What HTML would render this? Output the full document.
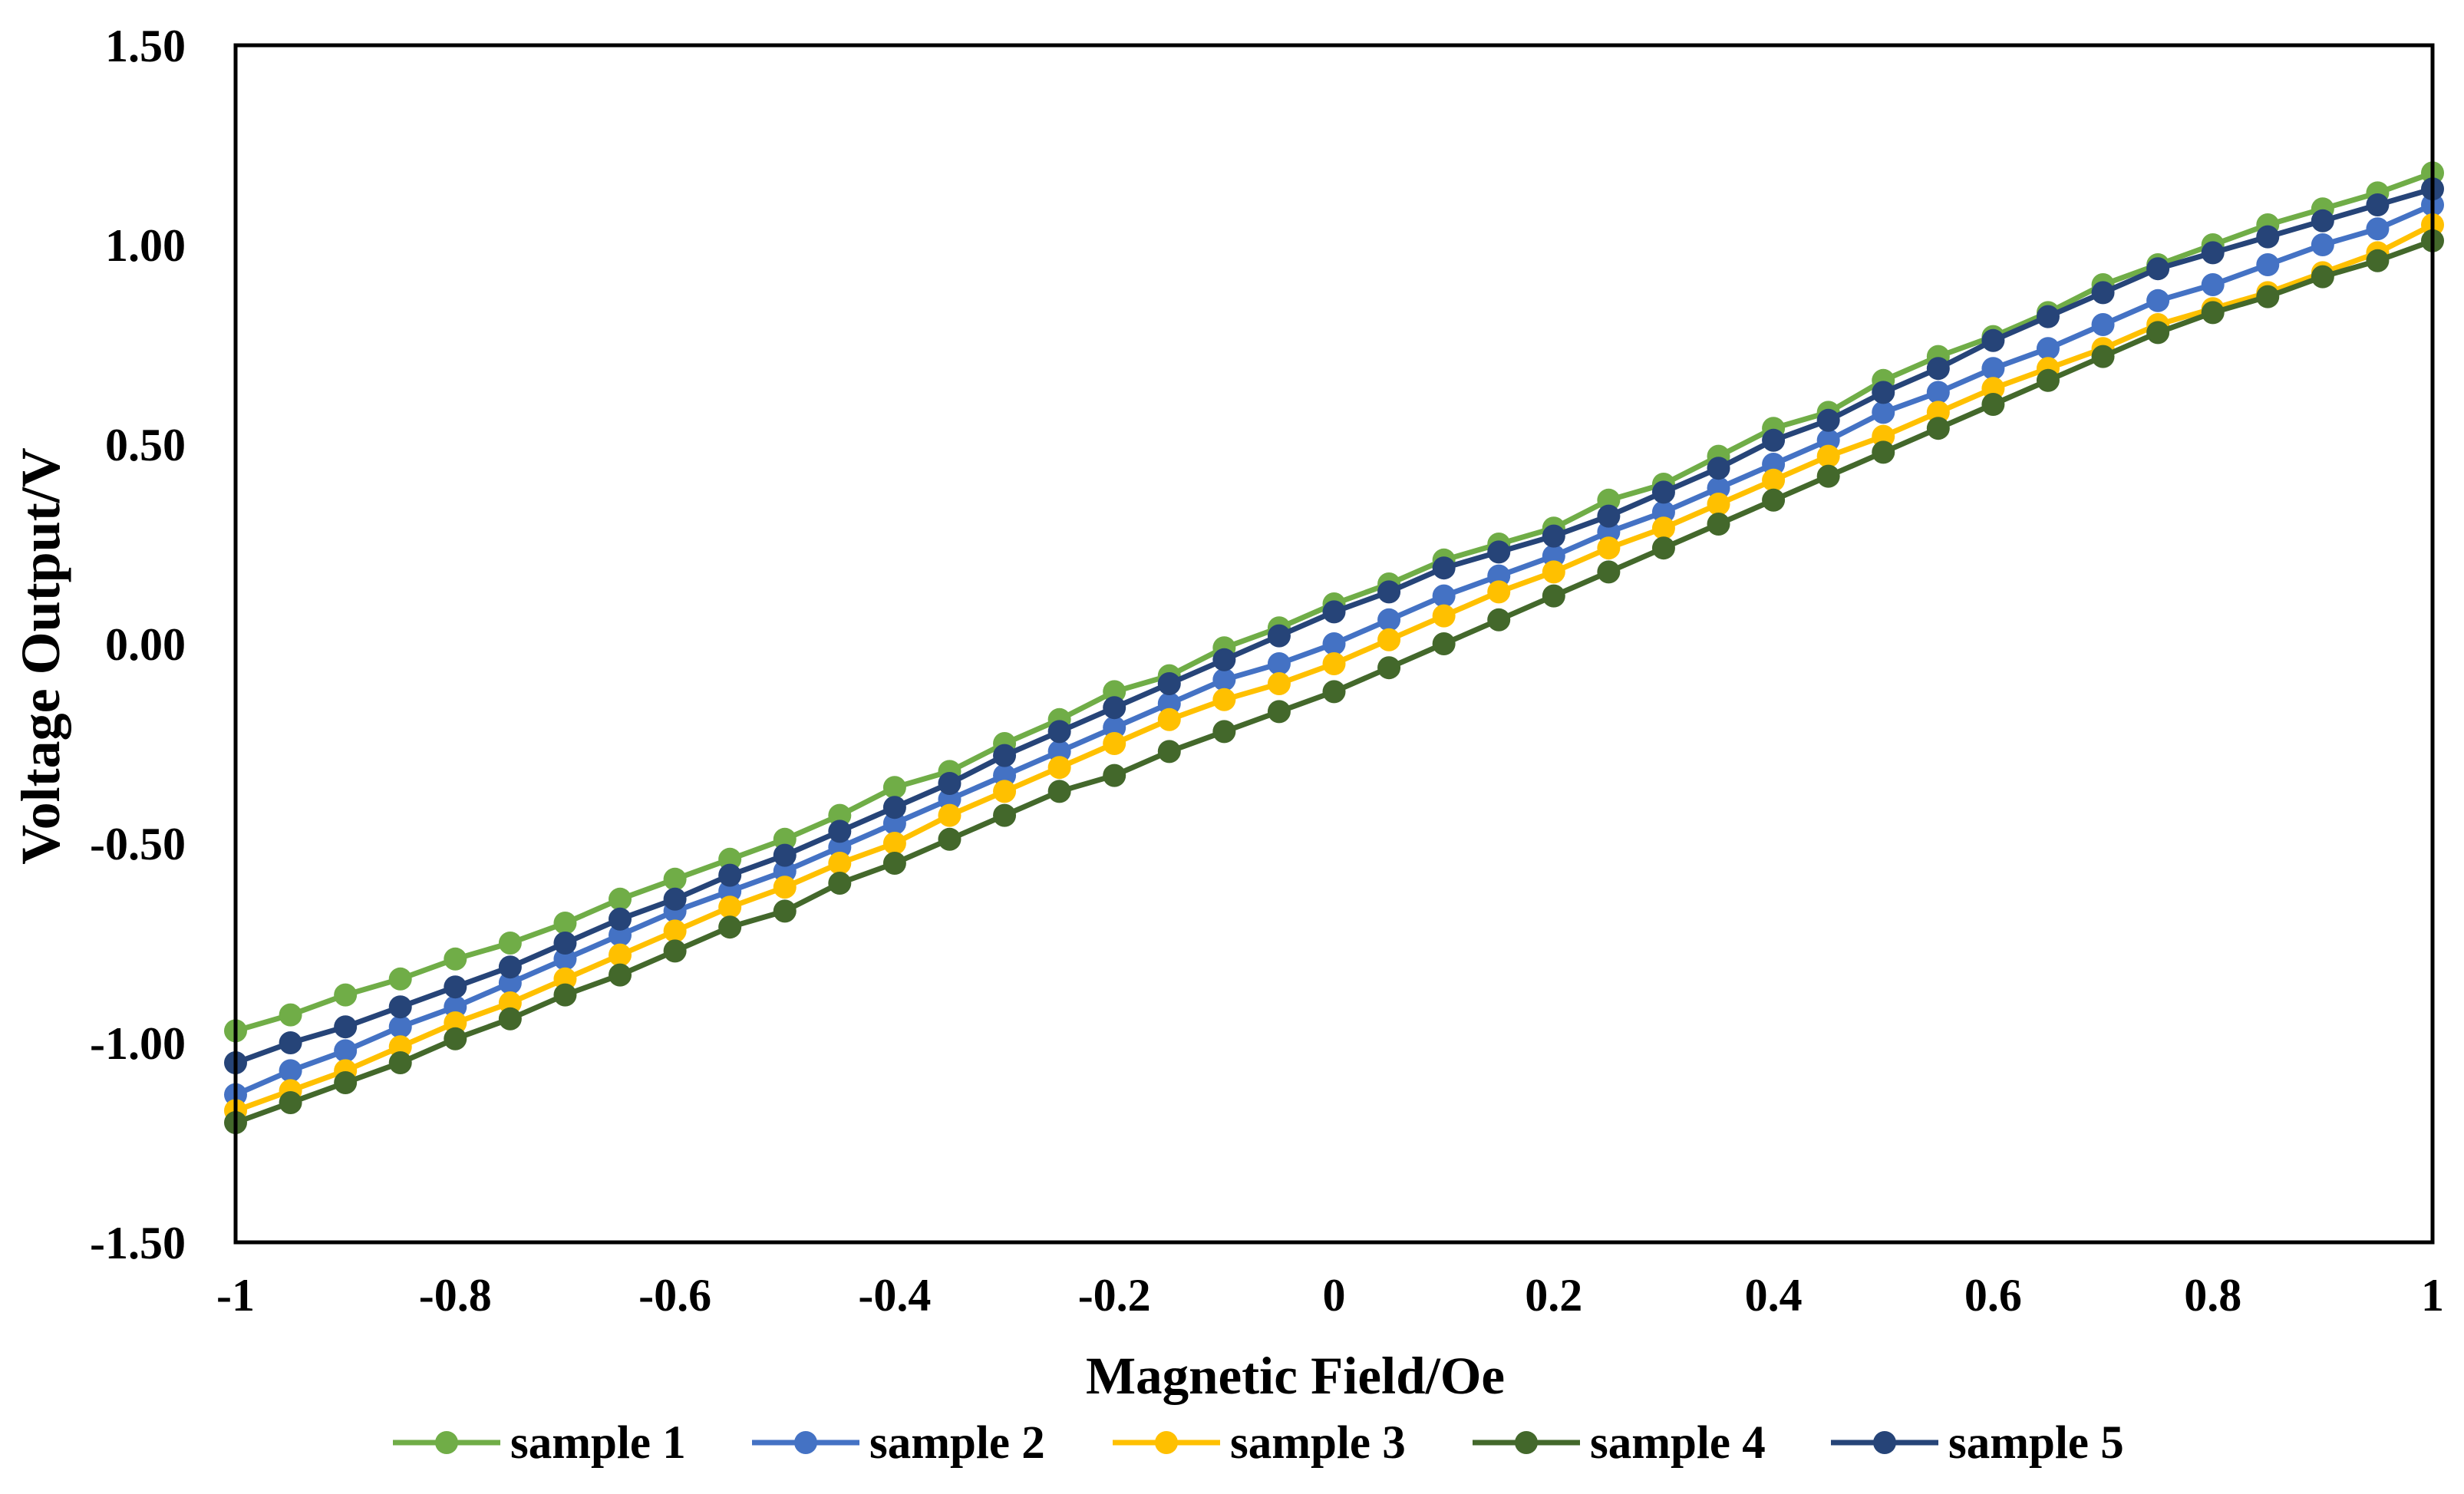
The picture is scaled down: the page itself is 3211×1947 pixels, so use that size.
<!DOCTYPE html>
<html><head><meta charset="utf-8"><style>
body{margin:0;background:#fff}
svg text{font-family:"Liberation Serif",serif;font-weight:bold;fill:#000}
</style></head><body>
<svg id="chart" width="3211" height="1942" xmlns="http://www.w3.org/2000/svg">
<rect x="0" y="0" width="3211" height="1942" fill="#fff"/>
<g id="grid"></g>
<g id="series"></g>
<rect x="307" y="59" width="2863" height="1560" fill="none" stroke="#000" stroke-width="5"/>
<g id="axes"></g>
<text x="1688" y="1816" font-size="69" text-anchor="middle">Magnetic Field/Oe</text>
<text transform="translate(77,855) rotate(-90)" font-size="72" text-anchor="middle">Voltage Output/V</text>
<g id="legend"></g>
</svg>
<script>
const xs=[-1,-0.95,-0.9,-0.85,-0.8,-0.75,-0.7,-0.65,-0.6,-0.55,-0.5,-0.45,-0.4,-0.35,-0.3,-0.25,-0.2,-0.15,-0.1,-0.05,0,0.05,0.1,0.15,0.2,0.25,0.3,0.35,0.4,0.45,0.5,0.55,0.6,0.65,0.7,0.75,0.8,0.85,0.9,0.95,1];
const s1=[-0.97,-0.93,-0.88,-0.84,-0.79,-0.75,-0.70,-0.64,-0.59,-0.54,-0.49,-0.43,-0.36,-0.32,-0.25,-0.19,-0.12,-0.08,-0.01,0.04,0.10,0.15,0.21,0.25,0.29,0.36,0.40,0.47,0.54,0.58,0.66,0.72,0.77,0.83,0.90,0.95,1.00,1.05,1.09,1.13,1.18];
const s2=[-1.13,-1.07,-1.02,-0.96,-0.91,-0.85,-0.79,-0.73,-0.67,-0.62,-0.57,-0.51,-0.45,-0.39,-0.33,-0.27,-0.21,-0.15,-0.09,-0.05,0.00,0.06,0.12,0.17,0.22,0.28,0.33,0.39,0.45,0.51,0.58,0.63,0.69,0.74,0.80,0.86,0.90,0.95,1.00,1.04,1.10];
const s3=[-1.17,-1.12,-1.07,-1.01,-0.95,-0.90,-0.84,-0.78,-0.72,-0.66,-0.61,-0.55,-0.50,-0.43,-0.37,-0.31,-0.25,-0.19,-0.14,-0.10,-0.05,0.01,0.07,0.13,0.18,0.24,0.29,0.35,0.41,0.47,0.52,0.58,0.64,0.69,0.74,0.80,0.84,0.88,0.93,0.98,1.05];
const s4=[-1.20,-1.15,-1.10,-1.05,-0.99,-0.94,-0.88,-0.83,-0.77,-0.71,-0.67,-0.60,-0.55,-0.49,-0.43,-0.37,-0.33,-0.27,-0.22,-0.17,-0.12,-0.06,0.00,0.06,0.12,0.18,0.24,0.30,0.36,0.42,0.48,0.54,0.60,0.66,0.72,0.78,0.83,0.87,0.92,0.96,1.01];
const s5=[-1.05,-1.00,-0.96,-0.91,-0.86,-0.81,-0.75,-0.69,-0.64,-0.58,-0.53,-0.47,-0.41,-0.35,-0.28,-0.22,-0.16,-0.10,-0.04,0.02,0.08,0.13,0.19,0.23,0.27,0.32,0.38,0.44,0.51,0.56,0.63,0.69,0.76,0.82,0.88,0.94,0.98,1.02,1.06,1.10,1.14];
const seriesNames=["sample 1","sample 2","sample 3","sample 4","sample 5"];
const yTicks=[1.5,1.0,0.5,0,-0.5,-1.0,-1.5];
const yTickLabels=["1.50","1.00","0.50","0.00","-0.50","-1.00","-1.50"];
const xTicks=[-1,-0.8,-0.6,-0.4,-0.2,0,0.2,0.4,0.6,0.8,1];
const xTickLabels=["-1","-0.8","-0.6","-0.4","-0.2","0","0.2","0.4","0.6","0.8","1"];

const NS="http://www.w3.org/2000/svg";
const colors=["#70ad47","#4472c4","#ffc000","#43682b","#264478"];
const X=v=>307+(v+1)/2*2863;
const Y=v=>59+(1.5-v)/3*1560;
function mk(tag,attrs,parent){const e=document.createElementNS(NS,tag);for(const k in attrs)e.setAttribute(k,attrs[k]);parent.appendChild(e);return e;}
const axes=document.getElementById('axes');
yTicks.forEach((t,i)=>{const e=mk('text',{x:242,y:Y(t)+21,'font-size':60,'text-anchor':'end'},axes);e.textContent=yTickLabels[i];

});
xTicks.forEach((t,i)=>{const e=mk('text',{x:X(t),y:1708,'font-size':60,'text-anchor':'middle'},axes);e.textContent=xTickLabels[i];

});
const sg=document.getElementById('series');
[s1,s2,s3,s4,s5].forEach((d,si)=>{
 const g=mk('g',{},sg);
 
 
 const pts=d.map((v,i)=>X(xs[i])+','+Y(v)).join(' ');
 const l=mk('polyline',{points:pts,fill:'none',stroke:colors[si],'stroke-width':7},g);
 
 
 d.forEach((v,i)=>{const c=mk('circle',{cx:X(xs[i]),cy:Y(v),r:15,fill:colors[si]},g);
 
 });
});
const lg=document.getElementById('legend');
const lx=[512,980,1450,1919,2386];
seriesNames.forEach((n,i)=>{
 const g=mk('g',{},lg);
 
 
 mk('line',{x1:lx[i],y1:1880,x2:lx[i]+140,y2:1880,stroke:colors[i],'stroke-width':7},g);
 mk('circle',{cx:lx[i]+70,cy:1880,r:15,fill:colors[i]},g);
 const t=mk('text',{x:lx[i]+153,y:1900,'font-size':61},g);t.textContent=n;
});
</script>
</body></html>
